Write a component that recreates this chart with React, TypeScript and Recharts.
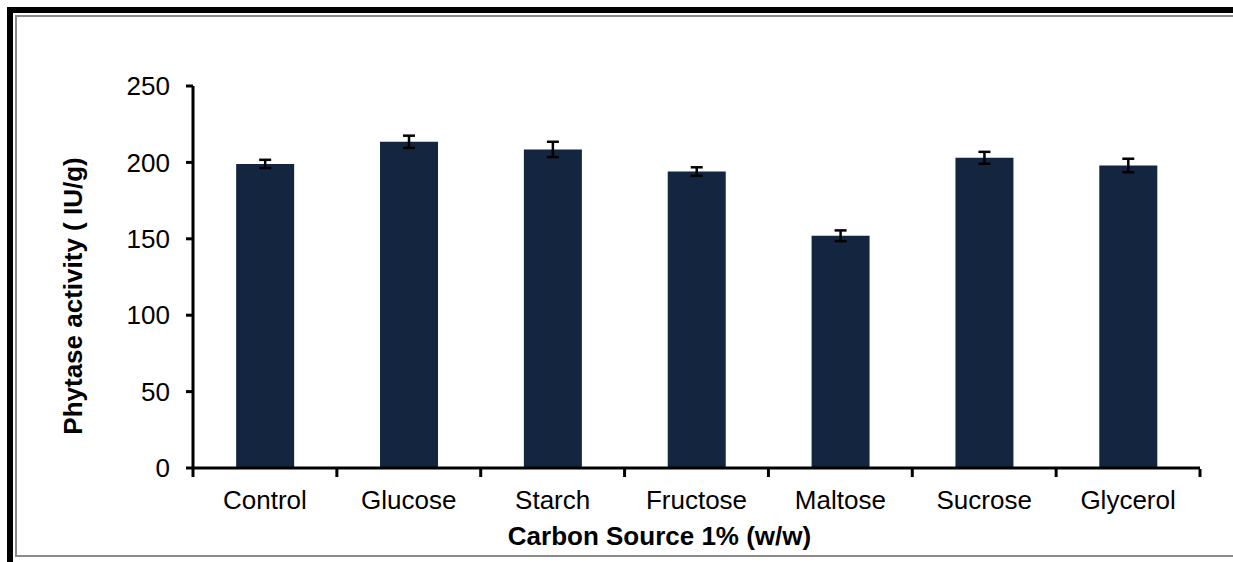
import React from 'react';
import { BarChart, Bar, XAxis, YAxis, ErrorBar, Label } from 'recharts';

const categories = ['Control', 'Glucose', 'Starch', 'Fructose', 'Maltose', 'Sucrose', 'Glycerol'];
const activity = [199, 213.5, 208.5, 194, 152, 203, 198];
const errors = [2.7, 4, 5, 2.8, 3.5, 3.9, 4.4];
const yTicks = [0, 50, 100, 150, 200, 250];

const data = categories.map((name, i) => ({ name, value: activity[i], err: errors[i] }));

const FONT = '"Liberation Sans", Arial, sans-serif';

const YTitle = (props: any) => {
  const vb = props.viewBox || {};
  const cx = vb.x + 73;
  const cy = vb.y + vb.height / 2 + 19;
  return (
    <text x={cx} y={cy} transform={`rotate(-90, ${cx}, ${cy})`} textAnchor="middle" dominantBaseline="central"
      fontFamily={FONT} fontSize={26} fontWeight="bold" fill="#000">
      Phytase activity ( IU/g)
    </text>
  );
};

const XTitle = (props: any) => {
  const vb = props.viewBox || {};
  const cx = vb.x + vb.width / 2 - 37;
  const cy = vb.y + 77;
  return (
    <text x={cx} y={cy} textAnchor="middle" fontFamily={FONT} fontSize={26} fontWeight="bold" fill="#000">
      Carbon Source 1% (w/w)
    </text>
  );
};

const CatTick = (props: any) => {
  const { x, y, payload, index, visibleTicksCount } = props;
  const half = payload && payload.offset ? payload.offset : 72;
  const left = x - half;
  const right = x + half;
  const last = index === (visibleTicksCount ?? categories.length) - 1;
  return (
    <g>
      <line x1={left} y1={y - 1} x2={left} y2={y + 7} stroke="#000" strokeWidth={3} />
      {last && <line x1={right} y1={y - 1} x2={right} y2={y + 7} stroke="#000" strokeWidth={3} />}
      <text x={x} y={y + 21} dy="0.71em" textAnchor="middle" fontFamily={FONT} fontSize={26} fill="#000">
        {payload.value}
      </text>
    </g>
  );
};

export default function App() {
  return (
    <div style={{ position: 'absolute', left: 0, top: 0, width: 1233, height: 562, background: '#fff', overflow: 'hidden' }}>
      <div style={{ position: 'absolute', left: 7, top: 7, width: 1400, height: 549, borderLeft: '6px solid #000', borderTop: '6px solid #000', borderBottom: '3px solid #000' }} />
      <div style={{ position: 'absolute', left: 15, top: 15, width: 1400, height: 538, borderLeft: '2px solid #8a8a8a', borderTop: '2px solid #8a8a8a', borderBottom: '2px solid #8a8a8a' }} />
      <div style={{ position: 'absolute', left: 0, top: 0 }}>
        <BarChart width={1233} height={562} data={data} margin={{ top: 86, right: 33, left: 0, bottom: 0 }} barCategoryGap="30%">
          <XAxis dataKey="name" height={94} axisLine={{ stroke: '#000', strokeWidth: 3 }} tickLine={false} tickSize={0}
            tick={<CatTick />} interval={0}>
            <Label content={<XTitle />} />
          </XAxis>
          <YAxis width={193} domain={[0, 250]} ticks={yTicks} interval={0}
            axisLine={{ stroke: '#000', strokeWidth: 3 }} tickLine={{ stroke: '#000', strokeWidth: 3 }} tickSize={7} tickMargin={16}
            tick={{ fontFamily: FONT, fontSize: 26, fill: '#000' }}>
            <Label content={<YTitle />} />
          </YAxis>
          <Bar dataKey="value" fill="#13253f" isAnimationActive={false}>
            <ErrorBar dataKey="err" direction="y" width={6} stroke="#000" strokeWidth={2.5} />
          </Bar>
        </BarChart>
      </div>
    </div>
  );
}
